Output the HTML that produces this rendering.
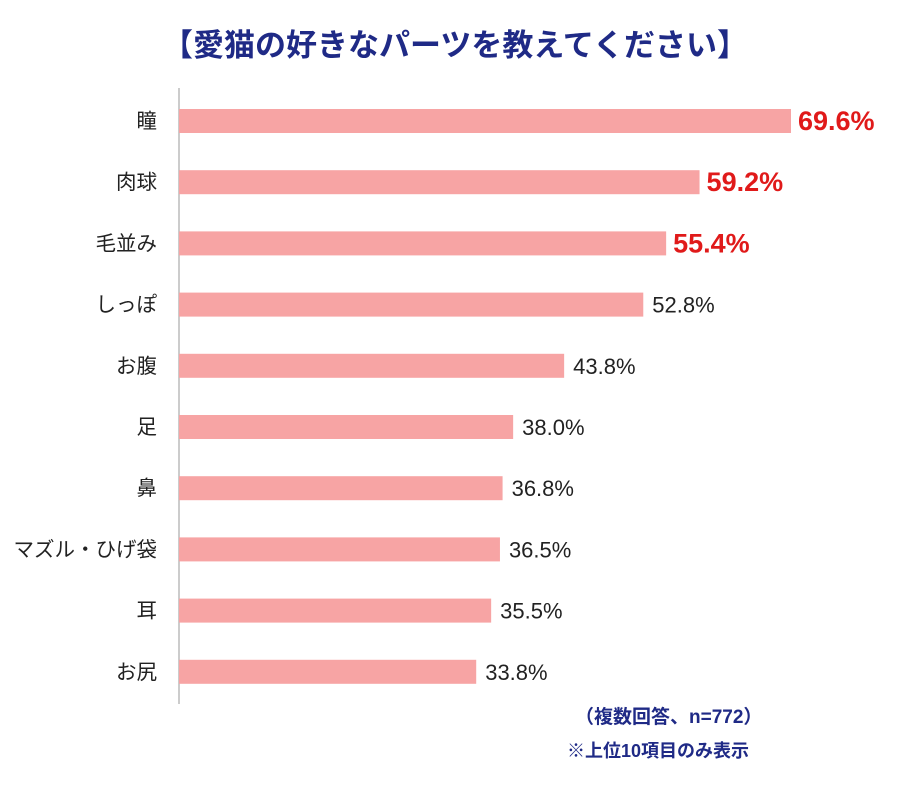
<!DOCTYPE html>
<html><head><meta charset="utf-8"><style>
body{margin:0;background:#fff;width:902px;height:784px;overflow:hidden;font-family:"Liberation Sans","Noto Sans CJK JP",sans-serif;}
</style></head><body>
<svg width="902" height="784">
<text x="455" y="56" text-anchor="middle" font-size="31" font-weight="bold" fill="#1f2a86">【愛猫の好きなパーツを教えてください】</text>
<line x1="179" y1="88" x2="179" y2="704" stroke="#999" stroke-width="1"/>
<g id="bars"></g>
<text x="575" y="723" font-size="19" font-weight="bold" fill="#1f2a86">（複数回答、n=772）</text>
<text x="567" y="757" font-size="18" font-weight="bold" fill="#1f2a86">※上位10項目のみ表示</text>
</svg>
<script>
const categories=["瞳","肉球","毛並み","しっぽ","お腹","足","鼻","マズル・ひげ袋","耳","お尻"];
const values=[69.6,59.2,55.4,52.8,43.8,38.0,36.8,36.5,35.5,33.8];
const highlight=[true,true,true,false,false,false,false,false,false,false];
const NS="http://www.w3.org/2000/svg";
const g=document.getElementById('bars');
const x0=179, scale=(791-179)/69.6;
const xs=v=>x0+v*scale;
const ys=i=>121+i*61.2;
categories.forEach((c,i)=>{
  const y=ys(i);
  const r=document.createElementNS(NS,'rect');
  r.setAttribute('x',x0);r.setAttribute('y',y-12);r.setAttribute('width',xs(values[i])-x0);r.setAttribute('height',24);r.setAttribute('fill','#f7a4a4');
  
  
  g.appendChild(r);
  const l=document.createElementNS(NS,'text');
  l.setAttribute('x',157);l.setAttribute('y',y+7);l.setAttribute('text-anchor','end');l.setAttribute('font-size','20.5');l.setAttribute('fill','#222');
  l.textContent=c;
  
  
  g.appendChild(l);
  const t=document.createElementNS(NS,'text');
  t.setAttribute('x',xs(values[i])+(highlight[i]?7:9));t.setAttribute('y',y+(highlight[i]?9:8));
  t.setAttribute('font-size',highlight[i]?'27':'22');
  if(highlight[i]){t.setAttribute('font-weight','bold');t.setAttribute('fill','#e01a1a');}else t.setAttribute('fill','#222');
  t.textContent=values[i].toFixed(1)+'%';
  
  
  g.appendChild(t);
});
</script>
</body></html>
